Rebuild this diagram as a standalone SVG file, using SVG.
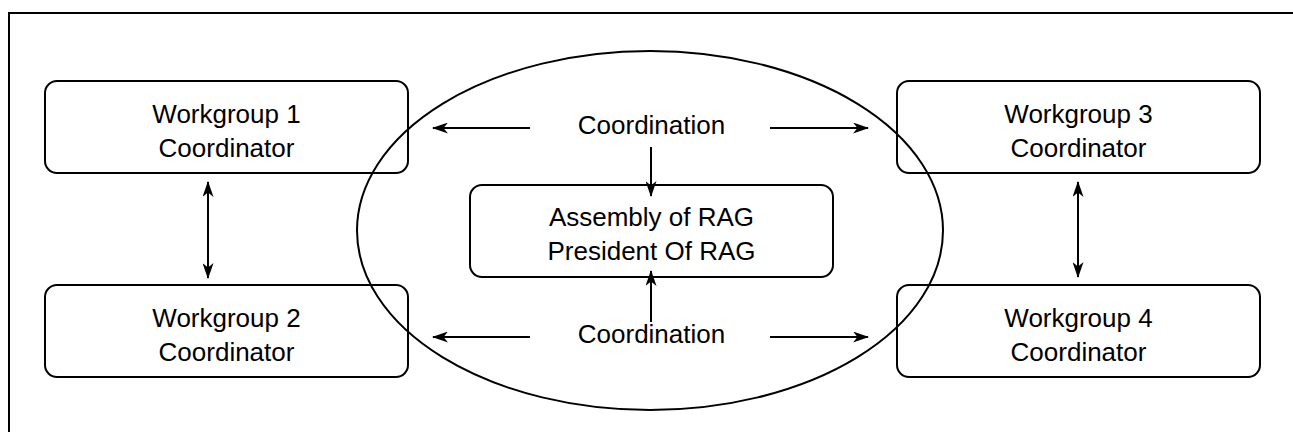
<svg xmlns="http://www.w3.org/2000/svg" width="1293" height="432" viewBox="0 0 1293 432">
<style>
.box{fill:none;stroke:#000;stroke-width:2}
.t{font-family:"Liberation Sans",Arial,Helvetica,sans-serif;font-size:26px;fill:#000;text-anchor:middle}
.c{fill:none;stroke:#000;stroke-width:2}
</style>
<defs>
<marker id="ah" viewBox="0 0 16 11" refX="15" refY="5.5" markerWidth="16" markerHeight="11" markerUnits="userSpaceOnUse" orient="auto-start-reverse">
<path d="M0,0 L16,5.5 L0,11 L4.5,5.5 z" fill="#000"/>
</marker>
</defs>
<rect width="1293" height="432" fill="#fff"/>
<path id="frame" d="M9,432 V13 H1293" fill="none" stroke="#000" stroke-width="2"/>
<g id="wg1"><rect class="box" x="45" y="81" width="363" height="92" rx="12"/><text class="t" x="226.5" y="123">Workgroup 1</text><text class="t" x="226.5" y="157">Coordinator</text></g>
<g id="wg2"><rect class="box" x="45" y="285" width="363" height="92" rx="12"/><text class="t" x="226.5" y="327">Workgroup 2</text><text class="t" x="226.5" y="361">Coordinator</text></g>
<g id="wg3"><rect class="box" x="897" y="81" width="363" height="92" rx="12"/><text class="t" x="1078.5" y="123">Workgroup 3</text><text class="t" x="1078.5" y="157">Coordinator</text></g>
<g id="wg4"><rect class="box" x="897" y="285" width="363" height="92" rx="12"/><text class="t" x="1078.5" y="327">Workgroup 4</text><text class="t" x="1078.5" y="361">Coordinator</text></g>
<g id="assembly"><rect class="box" x="470" y="185" width="363" height="92" rx="12"/><text class="t" x="651.5" y="226">Assembly of RAG</text><text class="t" x="651.5" y="260">President Of RAG</text></g>
<g id="coordination-ellipse"><ellipse cx="650" cy="230.5" rx="293" ry="179.5" fill="none" stroke="#000" stroke-width="2"/></g>
<g id="coord-top"><text class="t" x="651.5" y="134">Coordination</text></g>
<g id="coord-bottom"><text class="t" x="651.5" y="343">Coordination</text></g>
<g id="connectors">
<path class="c" d="M530,128 L433,128" marker-end="url(#ah)"/>
<path class="c" d="M770,128 L868,128" marker-end="url(#ah)"/>
<path class="c" d="M651,147 L651,196" marker-end="url(#ah)"/>
<path class="c" d="M651,322 L651,271" marker-end="url(#ah)"/>
<path class="c" d="M530,337 L433,337" marker-end="url(#ah)"/>
<path class="c" d="M770,337 L868,337" marker-end="url(#ah)"/>
<path class="c" d="M208,182 L208,278" marker-start="url(#ah)" marker-end="url(#ah)"/>
<path class="c" d="M1078,182 L1078,277" marker-start="url(#ah)" marker-end="url(#ah)"/>
</g>
</svg>
